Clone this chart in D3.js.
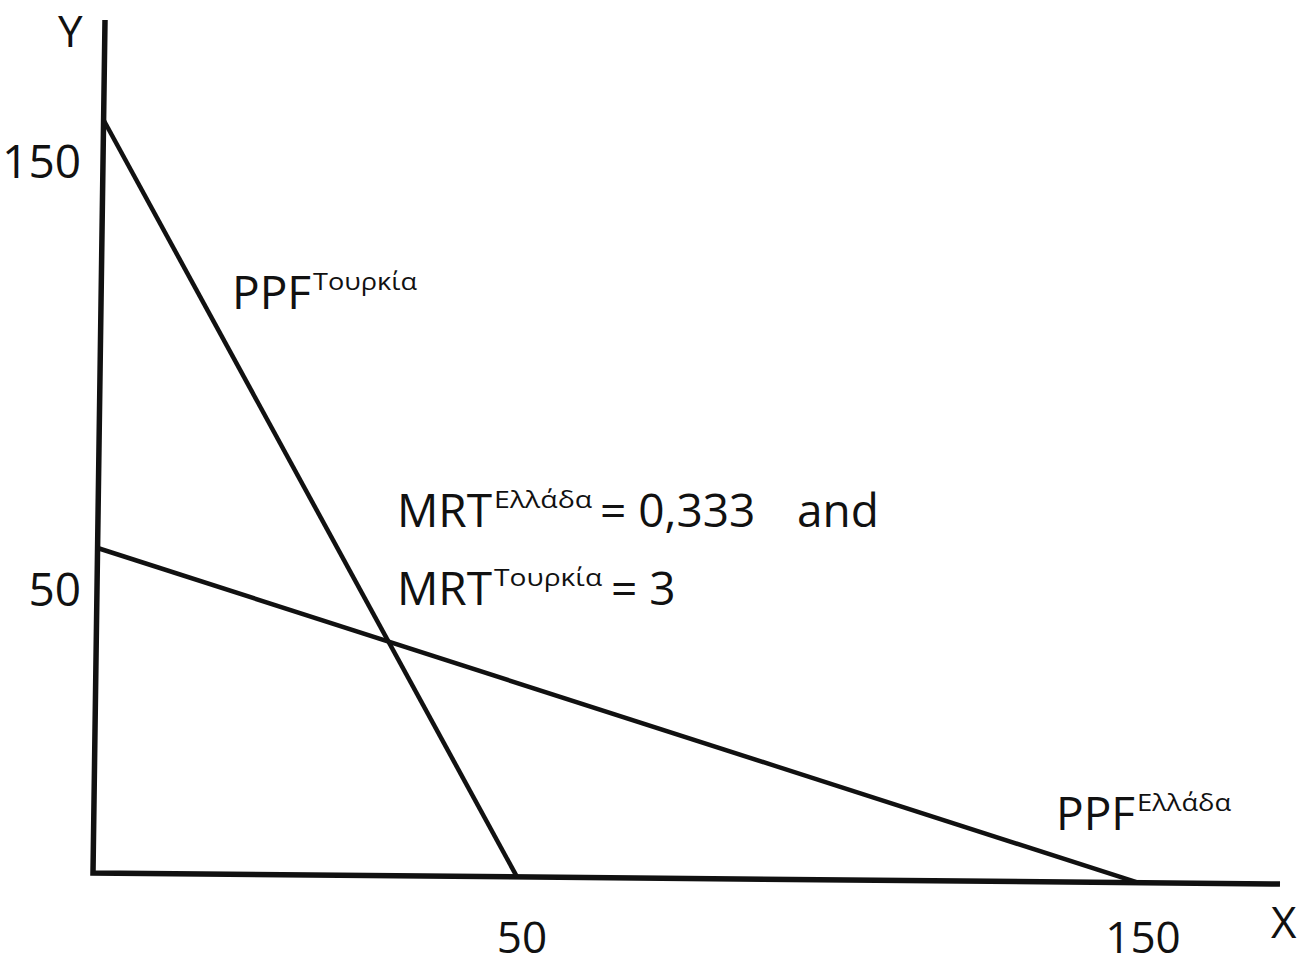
<!DOCTYPE html>
<html>
<head>
<meta charset="utf-8">
<script src="https://cdn.jsdelivr.net/npm/d3@7"></script>
<style>
  html, body { margin: 0; padding: 0; background: #fff; }
  svg text { font-family: "Open Sans", "Noto Sans", sans-serif; fill: #111; }
</style>
</head>
<body>
<svg id="chart" width="1301" height="966"></svg>
<script>
"use strict";

// PPF end points (x, y)
const turkeyPPF = [[0, 150], [50, 0]];
const greecePPF = [[0, 50], [150, 0]];
const xTicks = [50, 150];
const yTicks = [50, 150];

// the drawing is not to scale, so the scales are piecewise
const xs = d3.scaleLinear().domain([0, 50, 150, 170]).range([93, 517, 1138, 1280]);
const ys = d3.scaleLinear().domain([0, 50, 150, 170]).range([873, 548, 120, 20]);

const svg = d3.select("#chart");

// the scan is slightly tilted: x axis drops ~11px, y axis leans ~12px right
const kx = 12 / 853, ky = 11 / 1187;
const plot = svg.append("g")
  .attr("transform", `matrix(1,${ky},${-kx},1,${kx * 873},${-ky * 93})`);

plot.append("path")
  .attr("d", d3.line()([[xs(0), ys(170)], [xs(0), ys(0)], [xs(170), ys(0)]]))
  .attr("fill", "none")
  .attr("stroke", "#111")
  .attr("stroke-width", 5.5)
  .attr("stroke-linejoin", "miter");

const line = d3.line().x(d => xs(d[0])).y(d => ys(d[1]));

plot.selectAll(".ppf")
  .data([turkeyPPF, greecePPF])
  .join("path")
  .attr("class", "ppf")
  .attr("d", line)
  .attr("fill", "none")
  .attr("stroke", "#111")
  .attr("stroke-width", 4.5);

// tick labels
svg.selectAll(".ytick")
  .data(yTicks)
  .join("text")
  .attr("class", "ytick")
  .attr("x", 81)
  .attr("y", d => ys(d) + 58)
  .attr("text-anchor", "end")
  .attr("font-size", 46)
  .text(d => d);

svg.selectAll(".xtick")
  .data(xTicks)
  .join("text")
  .attr("class", "xtick")
  .attr("x", d => xs(d) + 5)
  .attr("y", 953)
  .attr("text-anchor", "middle")
  .attr("font-size", 44)
  .text(d => d);

svg.append("text").attr("x", 58).attr("y", 47).attr("font-size", 44).text("Y");
svg.append("text").attr("x", 1271).attr("y", 938).attr("font-size", 44).text("X");

// labels with superscripts
function label(x, y, main, sup, supLen) {
  const t = svg.append("text").attr("x", x).attr("y", y).attr("font-size", 46);
  t.append("tspan").text(main);
  const bb = t.node().getBBox();
  svg.append("text")
    .attr("x", bb.x + bb.width + 2)
    .attr("y", y - 19)
    .attr("font-size", 24)
    .attr("textLength", supLen)
    .attr("lengthAdjust", "spacingAndGlyphs")
    .text(sup);
}

label(232, 309, "PPF", "Τουρκία", 104);
label(1056, 830, "PPF", "Ελλάδα", 94);
label(397, 527, "MRT", "Ελλάδα", 98);
label(397, 605, "MRT", "Τουρκία", 108);

svg.append("text").attr("x", 600).attr("y", 527).attr("font-size", 46).text("= 0,333");
svg.append("text").attr("x", 797).attr("y", 527).attr("font-size", 46).text("and");
svg.append("text").attr("x", 611).attr("y", 605).attr("font-size", 46).text("= 3");
</script>
</body>
</html>
